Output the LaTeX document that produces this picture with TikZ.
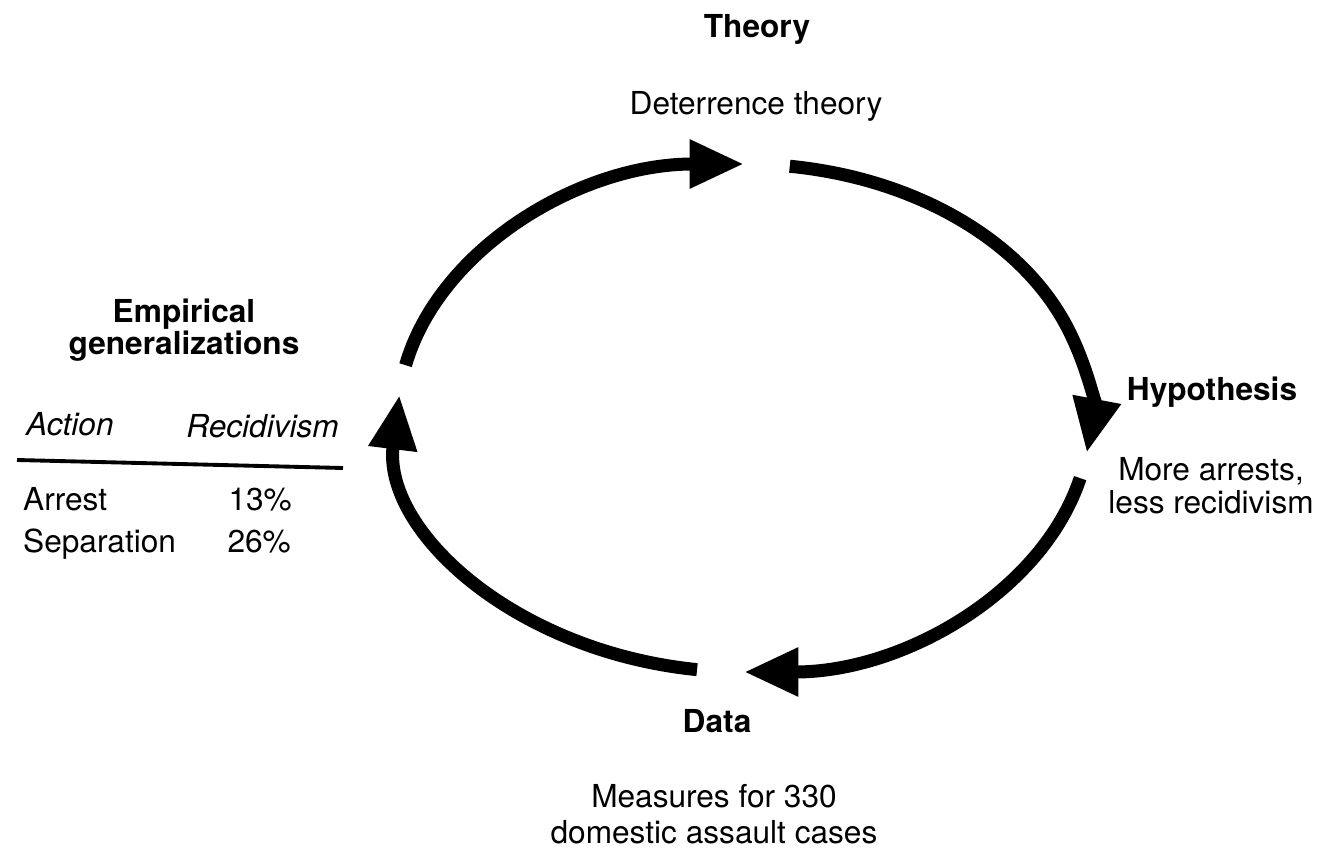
\documentclass[tikz,border=0pt]{standalone}
\usepackage{fontspec}
\setmainfont{TeX Gyre Heros}
\usetikzlibrary{arrows.meta}

\begin{document}
\begin{tikzpicture}[x=0.02cm,y=0.02cm,
    cyclearc/.style={line width=7.4pt,-{Triangle[length=31pt,width=26pt]}},
    stage/.style={font=\fontsize{18}{20}\bfseries\selectfont,anchor=base},
    entry/.style={font=\fontsize{18}{20}\selectfont,anchor=base}]
    \useasboundingbox (0,0) rectangle (1317,856);
    % ends of the four arcs
    \coordinate (p1) at ([shift={(168:346 and 254)}]744,438);
    \coordinate (p2) at ([shift={(82.4:346 and 254)}]744,438);
    \coordinate (p3) at ([shift={(-13.7:346 and 254)}]744,438);
    \coordinate (p4) at ([shift={(262.2:346 and 254)}]744,438);
    \draw[cyclearc] (p1) arc[start angle=168,end angle=90,x radius=346,y radius=254];
    \draw[cyclearc] (p2) arc[start angle=82.4,end angle=-7.9,x radius=346,y radius=254];
    \draw[cyclearc] (p3) arc[start angle=-13.7,end angle=-90,x radius=346,y radius=254];
    \draw[cyclearc] (p4) arc[start angle=262.2,end angle=174.8,x radius=346,y radius=254];
    % stages
    \node[stage] (theory) at (757,818) {Theory};
    \node[entry] (deter) at (756,741) {Deterrence theory};
    \node[stage] (hypo) at (1212,456) {Hypothesis};
    \node[entry,align=center,font=\fontsize{18}{18.7}\selectfont] (arrests) at (1211,343) {More arrests,\\less recidivism};
    \node[stage] (data) at (717,124) {Data};
    \node[entry,align=center,font=\fontsize{18}{20.4}\selectfont] (measures) at (714,13) {Measures for 330\\domestic assault cases};
    % table of results
    \node[stage,align=center,font=\fontsize{18}{17}\bfseries\selectfont] (emp) at (184,501) {Empirical\\generalizations};
    \node[entry,anchor=base west] (action) at (20,421) {\itshape Action};
    \node[entry,anchor=base east] (recid) at (345,419) {\itshape Recidivism};
    \coordinate (rulel) at (17,396);
    \coordinate (ruler) at (343,388);
    \draw[line width=2.2pt] (rulel) -- (ruler);
    \node[entry,anchor=base west] (arrest) at (17,346) {Arrest};
    \node[entry,anchor=base west] (separ) at (17,304) {Separation};
    \node[entry,anchor=base east] (pct13) at (298,346) {13\%};
    \node[entry,anchor=base east] (pct26) at (297,304) {26\%};
\end{tikzpicture}
\end{document}
